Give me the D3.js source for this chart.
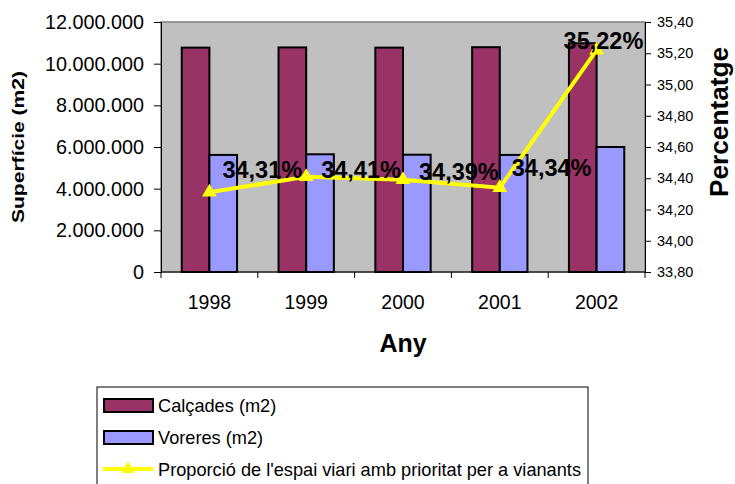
<!DOCTYPE html>
<html>
<head>
<meta charset="utf-8">
<script src="https://cdn.jsdelivr.net/npm/d3@7"></script>
<style>
  body { margin: 0; background: #fff; }
  text { font-family: "Liberation Sans", Arial, sans-serif; }
</style>
</head>
<body>
<div id="Chart"></div>
<script>
// data
const years = ["1998", "1999", "2000", "2001", "2002"];
const calcades = [10770000, 10780000, 10770000, 10790000, 10980000];
const voreres = [5620000, 5650000, 5630000, 5620000, 6000000];
const proporcio = [34.31, 34.41, 34.39, 34.34, 35.22];
const leftTicks = [0, 2000000, 4000000, 6000000, 8000000, 10000000, 12000000];
const rightTicks = [33.8, 34.0, 34.2, 34.4, 34.6, 34.8, 35.0, 35.2, 35.4];
const seriesNames = ["Calçades (m2)", "Voreres (m2)", "Proporció de l'espai viari amb prioritat per a vianants"];

// label nudges (data labels were moved by hand in the original)
const labelOffset = [[13, -14], [15, 1], [16, 0], [12, -12], [-33, -1]];

const Width = 735, Height = 484;
const plot = {left: 161, top: 22, right: 645, bottom: 272};

const loc = d3.formatLocale({decimal: ",", thousands: ".", grouping: [3], currency: ["", "€"]});

var svg = d3.select("#Chart").append("svg")
  .attr("width", Width)
  .attr("height", Height);

svg.append("rect").attr("width", Width).attr("height", Height).attr("fill", "#fff");

var X = d3.scaleBand()
  .domain(years)
  .range([plot.left, plot.right]);

var Y = d3.scaleLinear()
  .domain([0, 12000000])
  .range([plot.bottom, plot.top]);

var Y2 = d3.scaleLinear()
  .domain([33.8, 35.4])
  .range([plot.bottom, plot.top]);

// plot background
svg.append("rect")
  .attr("x", plot.left).attr("y", plot.top)
  .attr("width", plot.right - plot.left).attr("height", plot.bottom - plot.top)
  .attr("fill", "#c0c0c0")
  .attr("stroke", "#808080")
  .attr("stroke-width", 1.5);

// bars - gap width 150%
var inner = d3.scaleBand()
  .domain([0, 1])
  .range([0, X.bandwidth()])
  .paddingInner(0)
  .paddingOuter(0.75);

var barData = [calcades, voreres];
var barColors = ["#993366", "#9999ff"];

barData.forEach((vals, s) => {
  svg.append("g").selectAll("rect")
    .data(vals)
    .enter()
    .append("rect")
      .attr("x", (d, i) => X(years[i]) + inner(s))
      .attr("y", d => Y(d))
      .attr("width", inner.bandwidth())
      .attr("height", d => Y(0) - Y(d))
      .attr("fill", barColors[s])
      .attr("stroke", "#000")
      .attr("stroke-width", 2);
});

// left axis
var yAxis = svg.append("g")
  .attr("transform", `translate(${plot.left},0)`)
  .call(d3.axisLeft(Y).tickValues(leftTicks).tickSize(7).tickPadding(10)
    .tickFormat(loc.format(",.0f")));
yAxis.selectAll("text").attr("font-size", 19.8).attr("fill", "#000")
  .style("font-family", "'Liberation Sans', Arial, sans-serif");

// right axis
var y2Axis = svg.append("g")
  .attr("transform", `translate(${plot.right},0)`)
  .call(d3.axisRight(Y2).tickValues(rightTicks).tickSize(6).tickPadding(6)
    .tickFormat(loc.format(".2f")));
y2Axis.selectAll("text").attr("font-size", 14.5).attr("fill", "#000")
  .style("font-family", "'Liberation Sans', Arial, sans-serif");

// x axis: ticks between categories
var xAxis = svg.append("g")
  .attr("transform", `translate(0,${plot.bottom})`);
xAxis.append("line")
  .attr("x1", plot.left).attr("x2", plot.right)
  .attr("stroke", "#000");
xAxis.selectAll("line.tk")
  .data(years.concat(["end"]))
  .enter().append("line")
    .attr("class", "tk")
    .attr("x1", (d, i) => i < years.length ? X(d) : plot.right)
    .attr("x2", (d, i) => i < years.length ? X(d) : plot.right)
    .attr("y1", 0).attr("y2", 6)
    .attr("stroke", "#000");
xAxis.selectAll("text")
  .data(years)
  .enter().append("text")
    .attr("x", d => X(d) + X.bandwidth() / 2)
    .attr("y", 37)
    .attr("text-anchor", "middle")
    .attr("font-size", 19.5)
    .text(d => d);

svg.selectAll(".domain").attr("stroke", "#000");
svg.selectAll(".tick line").attr("stroke", "#000");

// line series
var cx = (d, i) => X(years[i]) + X.bandwidth() / 2;
svg.append("path")
  .datum(proporcio)
  .attr("fill", "none")
  .attr("stroke", "#ffff00")
  .attr("stroke-width", 4)
  .attr("d", d3.line().x(cx).y(d => Y2(d)));

svg.append("g").selectAll("path")
  .data(proporcio)
  .enter().append("path")
    .attr("transform", (d, i) => `translate(${cx(d, i)},${Y2(d)})`)
    .attr("d", d3.symbol(d3.symbolTriangle, 95))
    .attr("fill", "#ffff00");

// data labels
const pctFmt = loc.format(".2f");
svg.append("g").selectAll("text")
  .data(proporcio)
  .enter().append("text")
    .attr("x", (d, i) => cx(d, i) + labelOffset[i][0])
    .attr("y", (d, i) => Y2(d) + labelOffset[i][1])
    .attr("font-size", 23.5)
    .attr("font-weight", "bold")
    .text(d => pctFmt(d) + "%");

// axis titles
svg.append("text")
  .attr("transform", `translate(24,${(plot.top + plot.bottom) / 2}) rotate(-90) scale(1.24,1)`)
  .attr("text-anchor", "middle")
  .attr("font-size", 17)
  .attr("font-weight", "bold")
  .text("Superfície (m2)");

svg.append("text")
  .attr("transform", `translate(728,122) rotate(-90) scale(1.05,1)`)
  .attr("text-anchor", "middle")
  .attr("font-size", 25)
  .attr("font-weight", "bold")
  .text("Percentatge");

svg.append("text")
  .attr("x", (plot.left + plot.right) / 2)
  .attr("y", 352)
  .attr("text-anchor", "middle")
  .attr("font-size", 25)
  .attr("font-weight", "bold")
  .text("Any");

// legend
var legend = svg.append("g").attr("transform", "translate(97,387)");
legend.append("rect")
  .attr("width", 491).attr("height", 120)
  .attr("fill", "#fff").attr("stroke", "#000");

seriesNames.forEach((name, i) => {
  var row = legend.append("g").attr("transform", `translate(0,${18 + i * 32})`);
  if (i < 2) {
    row.append("rect")
      .attr("x", 7).attr("y", -6)
      .attr("width", 49).attr("height", 13)
      .attr("fill", barColors[i])
      .attr("stroke", "#000").attr("stroke-width", 2);
  } else {
    row.append("line")
      .attr("x1", 6).attr("x2", 56)
      .attr("stroke", "#ffff00").attr("stroke-width", 4);
    row.append("path")
      .attr("transform", "translate(31,0)")
      .attr("d", d3.symbol(d3.symbolTriangle, 80))
      .attr("fill", "#ffff00");
  }
  row.append("text")
    .attr("x", 61).attr("y", 7)
    .attr("font-size", 18.2)
    .text(name);
});
</script>
</body>
</html>
